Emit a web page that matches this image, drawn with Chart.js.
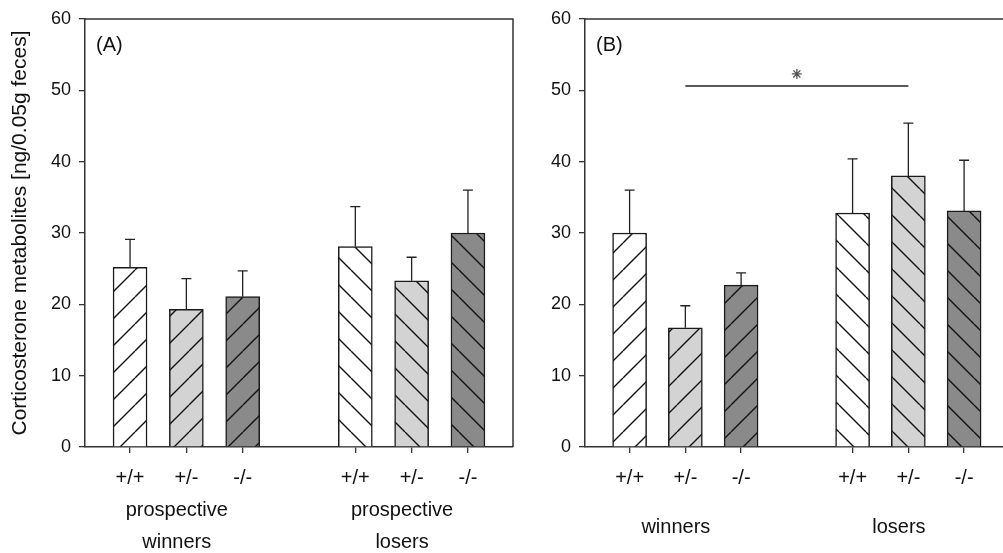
<!DOCTYPE html>
<html><head><meta charset="utf-8">
<script src="https://cdn.jsdelivr.net/npm/chart.js@4/dist/chart.umd.min.js"></script>
<style>
html,body{margin:0;padding:0;background:#fff;overflow:hidden;width:1003px;height:553px;position:relative;}
#ca{position:absolute;left:0;top:0;}
#cb{position:absolute;left:515px;top:0;}
</style></head><body>
<canvas id="ca" width="520" height="553"></canvas>
<canvas id="cb" width="500" height="553"></canvas>
<script>
// ---- data ----
const genotypes = ['+/+', '+/-', '-/-', '+/+', '+/-', '-/-'];
const xPositions = [0, 1, 2, 4, 5, 6];
const groupPositions = [0.83, 4.83];
const groupLabelsA = [['prospective', 'winners'], ['prospective', 'losers']];
const groupLabelsB = ['winners', 'losers'];
const meansA = [25.2, 19.3, 21.1, 28.1, 23.3, 30.0];
const seA = [3.9, 4.3, 3.6, 5.6, 3.3, 6.0];
const meansB = [30.0, 16.7, 22.7, 32.8, 38.0, 33.1];
const seB = [6.0, 3.1, 1.7, 7.6, 7.4, 7.1];
const yTicks = [0, 10, 20, 30, 40, 50, 60];
const sigLineB = [{x: 1, y: 50.6}, {x: 5, y: 50.6}];
const sigStarB = [{x: 3, y: 52.3}];
const yTitle = 'Corticosterone metabolites [ng/0.05g feces]';

// ---- styles ----
const FONT = "'Liberation Sans', Arial, Helvetica, sans-serif";
const fills = ['#ffffff', '#d3d3d3', '#8a8a8a', '#ffffff', '#d3d3d3', '#8a8a8a'];
const hatchDir = ['/', '/', '/', '\\', '\\', '\\'];
const AX = '#333333';

function makePattern(bg, dir) {
  const s = 27;
  const c = document.createElement('canvas');
  c.width = s; c.height = s;
  const g = c.getContext('2d');
  g.fillStyle = bg; g.fillRect(0, 0, s, s);
  g.strokeStyle = '#111'; g.lineWidth = 1.4;
  g.beginPath();
  for (let k = -1; k <= 1; k++) {
    if (dir === '/') { g.moveTo(k * s, s); g.lineTo(k * s + s, 0); }
    else { g.moveTo(k * s, 0); g.lineTo(k * s + s, s); }
  }
  g.stroke();
  return g.createPattern(c, 'repeat');
}
const patterns = fills.map((f, i) => makePattern(f, hatchDir[i]));

const errorBars = {
  id: 'errorBars',
  afterDatasetsDraw(chart, args, opts) {
    const {ctx, scales: {x, y}} = chart;
    const ds = chart.data.datasets[0];
    ctx.save();
    ctx.strokeStyle = '#222'; ctx.lineWidth = 1.3;
    ds.data.forEach((p, i) => {
      const px = x.getPixelForValue(p.x);
      const y0 = y.getPixelForValue(p.y);
      const y1 = y.getPixelForValue(p.y + opts.se[i]);
      ctx.beginPath();
      ctx.moveTo(px, y0); ctx.lineTo(px, y1);
      ctx.moveTo(px - 5, y1); ctx.lineTo(px + 5, y1);
      ctx.stroke();
    });
    ctx.restore();
  }
};

const frame = {
  id: 'frame',
  afterDraw(chart, args, opts) {
    const {ctx, chartArea: a} = chart;
    ctx.save();
    ctx.strokeStyle = AX; ctx.lineWidth = 1.5;
    ctx.beginPath();
    ctx.moveTo(a.left, a.top); ctx.lineTo(a.right, a.top); ctx.lineTo(a.right, a.bottom);
    ctx.stroke();
    ctx.fillStyle = '#111';
    ctx.font = '20px ' + FONT;
    ctx.textBaseline = 'middle'; ctx.textAlign = 'left';
    ctx.fillText(opts.label, a.left + 11, a.top + 26);
    ctx.restore();
  }
};

function buildOptions(groupLabels, yAxisWidth, showTitle, groupPad, label, se, padRight) {
  return {
    responsive: false,
    animation: false,
    layout: {padding: {top: 19, right: padRight, left: 0, bottom: 0}},
    plugins: {legend: {display: false}, tooltip: {enabled: false},
      errorBars: {se: se}, frame: {label: label}},
    scales: {
      x: {
        type: 'linear', min: -0.8, max: 6.8, weight: 0, position: 'bottom', offset: false,
        afterBuildTicks: s => { s.ticks = xPositions.map(v => ({value: v})); },
        afterFit: s => { s.height = 40; },
        ticks: {autoSkip: false, maxRotation: 0, minRotation: 0, padding: 13, color: '#111',
          font: {family: FONT, size: 20}, callback: (v, i) => genotypes[i]},
        grid: {offset: false, drawOnChartArea: false, drawTicks: true, tickLength: 6, color: AX, lineWidth: 1.3},
        border: {display: true, color: AX, width: 1.5}
      },
      x2: {
        type: 'linear', min: -0.8, max: 6.8, weight: 1, position: 'bottom', offset: false,
        afterBuildTicks: s => { s.ticks = groupPositions.map(v => ({value: v})); },
        afterFit: s => { s.height = 66; },
        ticks: {autoSkip: false, maxRotation: 0, minRotation: 0, padding: groupPad, color: '#111',
          font: {family: FONT, size: 20, lineHeight: 32 / 20}, callback: (v, i) => groupLabels[i]},
        grid: {display: false, drawTicks: false, offset: false},
        border: {display: false}
      },
      y: {
        min: 0, max: 60,
        afterBuildTicks: s => { s.ticks = yTicks.map(v => ({value: v})); },
        afterFit: s => { s.width = yAxisWidth; },
        ticks: {padding: 8, color: '#111', font: {family: FONT, size: 18}},
        grid: {drawOnChartArea: false, drawTicks: true, tickLength: 6, color: AX, lineWidth: 1.3},
        border: {display: true, color: AX, width: 1.5},
        title: {display: showTitle, text: yTitle, color: '#111',
          font: {family: FONT, size: 21}, padding: {top: 8, bottom: 0}}
      }
    }
  };
}

new Chart(document.getElementById('ca'), {
  type: 'bar',
  data: {datasets: [{
    data: xPositions.map((x, i) => ({x: x, y: meansA[i]})),
    backgroundColor: patterns, borderColor: '#1a1a1a', borderWidth: 1.5, barThickness: 34
  }]},
  options: buildOptions(groupLabelsA, 85, true, 7, '(A)', seA, 7),
  plugins: [errorBars, frame]
});

new Chart(document.getElementById('cb'), {
  type: 'bar',
  data: {datasets: [{
    data: xPositions.map((x, i) => ({x: x, y: meansB[i]})),
    backgroundColor: patterns, borderColor: '#1a1a1a', borderWidth: 1.5, barThickness: 34
  }, {
    type: 'line', data: sigLineB, borderColor: '#222', borderWidth: 1.6, pointRadius: 0, fill: false
  }, {
    type: 'scatter', data: sigStarB, pointStyle: 'star', pointRadius: 5, borderColor: '#555', borderWidth: 1.3
  }]},
  options: buildOptions(groupLabelsB, 70, false, 24, '(B)', seB, 2),
  plugins: [errorBars, frame]
});
</script>
</body></html>
